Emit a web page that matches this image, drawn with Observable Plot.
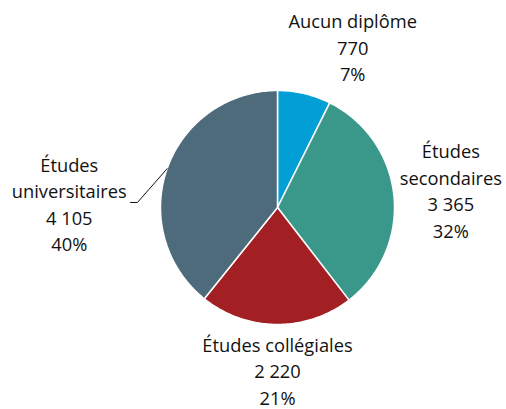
<!DOCTYPE html>
<html>
<head>
<meta charset="utf-8">
<script src="https://cdn.jsdelivr.net/npm/d3@7"></script>
<script src="https://cdn.jsdelivr.net/npm/@observablehq/plot@0.6"></script>
<style>
  html, body { margin: 0; padding: 0; background: #fff; }
  #chart svg { display: block; }
</style>
</head>
<body>
<div id="chart"></div>
<script>
// Data
const categories = ["Aucun diplôme", "Études secondaires", "Études collégiales", "Études universitaires"];
const labelNames = ["Aucun diplôme", "Études\nsecondaires", "Études collégiales", "Études\nuniversitaires"];
const values = [770, 3365, 2220, 4105];
const percentLabels = ["7%", "32%", "21%", "40%"];
const colors = ["#019fd5", "#3a988a", "#a21f23", "#4e6b7c"];

// Layout (label anchor: angle in degrees clockwise from top, radius as fraction of pie radius)
const labelAnchors = [[25, 1.52], [84, 1.49], [180, 1.385], [271.2, 1.78]];

const fmt = v => d3.format(",")(v).replace(/,/g, " ");

// Build slice polygons from data with d3.pie
const arcs = d3.pie().sort(null).value(d => d)(values);
const slicePoints = [];
arcs.forEach((a, i) => {
  slicePoints.push({cat: categories[i], x: 0, y: 0});
  const steps = Math.max(2, Math.ceil((a.endAngle - a.startAngle) / (Math.PI / 180)));
  for (let s = 0; s <= steps; s++) {
    const t = a.startAngle + (a.endAngle - a.startAngle) * s / steps;
    slicePoints.push({cat: categories[i], x: Math.sin(t), y: Math.cos(t)});
  }
  slicePoints.push({cat: categories[i], x: 0, y: 0});
});

const labels = categories.map((c, i) => {
  const [deg, r] = labelAnchors[i];
  const t = deg * Math.PI / 180;
  return {
    x: r * Math.sin(t), y: r * Math.cos(t),
    text: `${labelNames[i]}\n${fmt(values[i])}\n${percentLabels[i]}`
  };
});

// Leader line for the last slice (from the slice's mid-angle on the rim)
const uni = arcs[3];
const la = (uni.startAngle + uni.endAngle) / 2;
const leader = [
  {x: Math.sin(la), y: Math.cos(la)},
  {x: -1.197, y: 0.043},
  {x: -1.256, y: 0.043}
];

const chart = Plot.plot({
  width: 506,
  height: 409,
  margin: 0,
  x: {domain: [-1, 1], range: [160, 394], axis: null},
  y: {domain: [-1, 1], range: [324, 90], axis: null},
  color: {domain: categories, range: colors},
  style: {fontFamily: "'Open Sans', sans-serif", background: "#fff"},
  marks: [
    Plot.line(slicePoints, {x: "x", y: "y", z: "cat", fill: "cat", stroke: "#fff", strokeWidth: 1.5, strokeLinejoin: "round"}),
    Plot.line(leader, {x: "x", y: "y", stroke: "#111", strokeWidth: 1}),
    Plot.text(labels, {x: "x", y: "y", text: "text", fontSize: 18.3, lineHeight: 1.45, fill: "#111", textAnchor: "middle"})
  ]
});
document.getElementById("chart").appendChild(chart);
</script>
</body>
</html>
